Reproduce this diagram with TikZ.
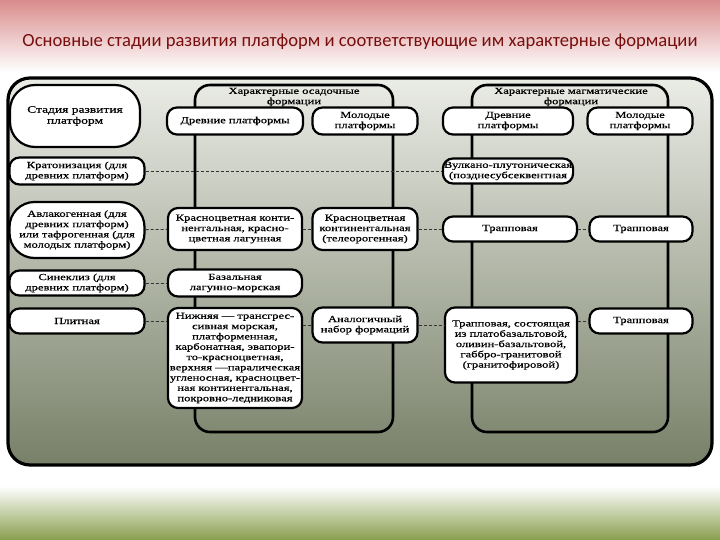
\documentclass[tikz,border=0pt]{standalone}
\usepackage{fontspec}
\setmainfont{Liberation Serif}[FakeStretch=1.35, FakeBold=0.6]
\newfontfamily\titlefont{Carlito}
\usepackage{xcolor}
\usepackage{tikz}
\usetikzlibrary{positioning}
\definecolor{titlered}{RGB}{120,14,14}
\definecolor{toppink}{RGB}{218,140,140}
\definecolor{botgreen}{RGB}{136,158,78}
\definecolor{paneltop}{RGB}{234,236,230}
\definecolor{panelmid}{RGB}{176,180,160}
\definecolor{panelbot}{RGB}{120,128,104}

\begin{document}
\begin{tikzpicture}[x=1pt, y=-1pt, font=\fontsize{9.3}{10.3}\selectfont,
    box/.style={draw, fill=white, line width=2.2pt, rounded corners=10pt, align=center, inner sep=1pt},
    pill/.style={box, rounded corners=25pt},
    frame/.style={draw, line width=2.6pt, rounded corners=15pt},
    link/.style={densely dashed, line width=0.9pt, black!80}]

      \useasboundingbox (0,0) rectangle (720,540);
      \fill[white] (0,0) rectangle (720,540);
      \shade[top color=toppink, bottom color=white] (0,0) rectangle (720,72);
      \shade[top color=white, bottom color=botgreen] (0,486) rectangle (720,540);

      \node[font=\titlefont\fontsize{18.6}{21}\selectfont, text=titlered] (title) at (360, 42) {Основные стадии развития платформ и соответствующие им характерные формации};

      \draw[line width=3.2pt, rounded corners=22pt, top color=paneltop, middle color=panelmid, bottom color=panelbot] (8,78) rectangle (712,465);
      \draw[frame] (195,432) rectangle (393,85);
      \draw[frame] (472,432) rectangle (668,85);

      \node[align=center]                                      (sedhead) at (294,  97) {Характерные осадочные\\формации};
      \node[align=center]                                      (maghead) at (571,  97) {Характерные магматические\\формации};

      \node[pill, minimum width=130pt, minimum height=62pt, font=\fontsize{10}{11}\selectfont] (stage) at ( 75, 116) {Стадия развития\\платформ};
      \node[box,  minimum width=136pt, minimum height=27pt]  (sedold)  at (235, 121) {Древние платформы};
      \node[box,  minimum width=105pt, minimum height=27pt]  (sedyoung) at (365, 121) {Молодые\\платформы};
      \node[box,  minimum width=130pt, minimum height=27pt]  (magold)  at (508, 121) {Древние\\платформы};
      \node[box,  minimum width=105pt, minimum height=27pt]  (magyoung) at (640, 121) {Молодые\\платформы};

      \node[box,  minimum width=135pt, minimum height=27pt]  (kraton)  at ( 77, 171) {Кратонизация (для\\древних платформ)};
      \node[box,  minimum width=130pt, minimum height=25pt]  (volcan)  at (508, 171) {Вулкано-плутоническая\\(позднесубсеквентная};

      \node[pill, minimum width=135pt, minimum height=56pt]  (aulac)   at ( 77, 230) {Авлакогенная (для\\древних платформ)\\или тафрогенная (для\\молодых платформ)};
      \node[box,  minimum width=134pt, minimum height=42pt]  (redold)  at (235, 229) {Красноцветная конти-\\нентальная, красно-\\цветная лагунная};
      \node[box,  minimum width=105pt, minimum height=42pt]  (redyoung) at (365, 229) {Красноцветная\\континентальная\\(телеорогенная)};
      \node[box,  minimum width=134pt, minimum height=25pt]  (trapA)   at (510, 229) {Трапповая};
      \node[box,  minimum width=103pt, minimum height=25pt]  (trapB)   at (641, 229) {Трапповая};

      \node[box,  minimum width=135pt, minimum height=25pt]  (syncl)   at ( 77, 283) {Синеклиз (для\\древних платформ)};
      \node[box,  minimum width=134pt, minimum height=27pt]  (basal)   at (235, 283) {Базальная\\лагунно-морская};

      \node[box,  minimum width=135pt, minimum height=25pt]  (plate)   at ( 77, 321) {Плитная};
      \node[box,  minimum width=134pt, minimum height=100pt] (lower)   at (235, 358) {Нижняя — трансгрес-\\сивная морская,\\платформенная,\\карбонатная, эвапори-\\то-красноцветная,\\верхняя —паралическая\\угленосная, красноцвет-\\ная континентальная,\\покровно-ледниковая};
      \node[box,  minimum width=105pt, minimum height=35pt]  (analog)  at (365, 325) {Аналогичный\\набор формаций};
      \node[box,  minimum width=132pt, minimum height=75pt]  (trapC)   at (511, 345) {Трапповая, состоящая\\из платобазальтовой,\\оливин-базальтовой,\\габбро-гранитовой\\(гранитофировой)};
      \node[box,  minimum width=103pt, minimum height=25pt]  (trapD)   at (641, 321) {Трапповая};

      \draw[link] (kraton) -- (volcan);

      \draw[link] (aulac)    -- (redold);
      \draw[link] (redold)   -- (redyoung);
      \draw[link] (redyoung) -- (trapA);
      \draw[link] (trapA)    -- (trapB);

      \draw[link] (syncl) -- (basal);

      \draw[link] (plate) -- (plate -| lower.west);
      \draw[link] (lower.east |- analog) -- (analog);
      \draw[link] (analog) -- (analog -| trapC.west);
      \draw[link] (trapC.east |- trapD) -- (trapD);
    \end{tikzpicture}
\end{document}
